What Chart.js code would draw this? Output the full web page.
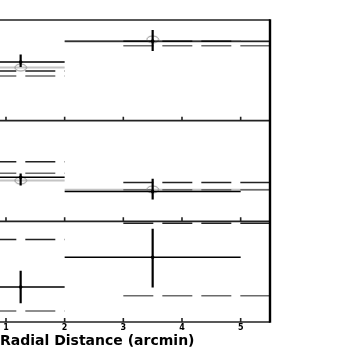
<!DOCTYPE html>
<html>
<head>
<meta charset="utf-8">
<script src="https://cdn.jsdelivr.net/npm/chart.js@4.4.0/dist/chart.umd.min.js"></script>
<style>
  html, body { margin: 0; padding: 0; background: #fff; overflow: hidden; }
  #wrap { position: relative; width: 364px; height: 350px; overflow: hidden; }
  #radialChart { position: absolute; left: -6px; top: 0; }
</style>
</head>
<body>
<div id="wrap"><canvas id="radialChart" width="370" height="350"></canvas></div>
<script>
// x axis (arcmin)
const xTicks = [1, 2, 3, 4, 5];
const binLo = [0.5, 2];
const binHi = [2, 5];
const binMid = [1.25, 3.5];
// model step edges
const modelLo = [0, 2];
const modelHi = [2, 5.5];
const dashLo = [0, 3];
const dashHi = [2, 5.5];

// panel 1 (top)
const p1Obs = [0.583, 0.79];
const p1ObsLo = [0.533, 0.693];
const p1ObsHi = [0.657, 0.90];
const p1Model = [0.527, 0.785];
const p1Circle = [0.527, 0.807];
const p1DashA = [0.493, 0.79];
const p1DashB = [0.443, 0.743];

// panel 2 (middle)
const p2Obs = [0.438, 0.297];
const p2ObsLo = [0.356, 0.216];
const p2ObsHi = [0.474, 0.422];
const p2Model = [0.405, 0.314];
const p2Circle = [0.405, 0.317];
const p2DashA = [0.591, 0.385];
const p2DashB = [0.477, 0.314];

// panel 3 (bottom)
const p3Obs = [0.347, 0.643];
const p3ObsLo = [0.187, 0.343];
const p3ObsHi = [0.51, 0.927];
const p3DashA = [0.82, 0.98];
const p3DashB = [0.11, 0.26];

// helpers: turn arrays into broken line paths
function hBars(lo, hi, vals){
  const out = [];
  vals.forEach((v, i) => { out.push({x: lo[i], y: v}, {x: hi[i], y: v}, {x: hi[i], y: null}); });
  return out;
}
function vBars(lo, hi){
  const out = [];
  lo.forEach((v, i) => { out.push({x: binMid[i], y: v}, {x: binMid[i], y: hi[i]}, {x: binMid[i], y: null}); });
  return out;
}
function pts(vals){ return vals.map((v, i) => ({x: binMid[i], y: v})); }

// open ellipse marker
const ring = document.createElement('canvas');
ring.width = 14; ring.height = 9;
(function(){
  const c = ring.getContext('2d');
  c.strokeStyle = '#8a8a8a';
  c.lineWidth = 1;
  c.beginPath();
  c.ellipse(7, 4.5, 5.8, 3.5, 0, 0, Math.PI * 2);
  c.stroke();
})();

const line = (data, yAxisID, color, width, dash) => ({
  type: 'line', data, yAxisID, borderColor: color, borderWidth: width,
  borderDash: dash || [], pointRadius: 0, fill: false, spanGaps: false, tension: 0
});
const dots = (data, yAxisID) => ({
  type: 'scatter', data, yAxisID, pointRadius: 1.8, pointBackgroundColor: '#000',
  pointBorderColor: '#000', pointBorderWidth: 0
});
const rings = (data, yAxisID) => ({
  type: 'scatter', data, yAxisID, pointStyle: ring, pointRadius: 5
});

const DASH = [30, 9];
const datasets = [];
[
  {id: 'y1', obs: p1Obs, lo: p1ObsLo, hi: p1ObsHi, model: p1Model, circ: p1Circle, a: p1DashA, b: p1DashB},
  {id: 'y2', obs: p2Obs, lo: p2ObsLo, hi: p2ObsHi, model: p2Model, circ: p2Circle, a: p2DashA, b: p2DashB},
  {id: 'y3', obs: p3Obs, lo: p3ObsLo, hi: p3ObsHi, a: p3DashA, b: p3DashB}
].forEach(p => {
  datasets.push(dots(pts(p.obs), p.id));
  datasets.push(line(vBars(p.lo, p.hi), p.id, '#000', 2.2));
  datasets.push(line(hBars(binLo, binHi, p.obs), p.id, '#000', 1.4));
  if (p.circ) datasets.push(rings(pts(p.circ), p.id));
  datasets.push(line(hBars(dashLo, dashHi, p.a), p.id, '#222', 1.5, DASH));
  datasets.push(line(hBars(dashLo, dashHi, p.b), p.id, '#6a6a6a', 1.5, DASH));
  if (p.model) datasets.push(line(hBars(modelLo, modelHi, p.model), p.id, '#c4c4c4', 2));
});

// panel frame and inward ticks
const framePlugin = {
  id: 'frame',
  afterDatasetsDraw(chart){
    const {ctx, chartArea, scales} = chart;
    const x = scales.x;
    ctx.save();
    ctx.strokeStyle = '#222';
    ctx.lineWidth = 1.6;
    ctx.beginPath();
    ctx.moveTo(chartArea.left, chartArea.top);
    ctx.lineTo(chartArea.right, chartArea.top);
    ['y1', 'y2', 'y3'].forEach(id => {
      const s = scales[id];
      ctx.moveTo(chartArea.left, s.bottom);
      ctx.lineTo(chartArea.right, s.bottom);
      xTicks.forEach(v => {
        const px = x.getPixelForValue(v);
        ctx.moveTo(px, s.bottom);
        ctx.lineTo(px, s.bottom - 4);
      });
    });
    ctx.stroke();
    ctx.strokeStyle = '#000';
    ctx.lineWidth = 2.4;
    ctx.beginPath();
    ctx.moveTo(chartArea.right, chartArea.top - 0.8);
    ctx.lineTo(chartArea.right, chartArea.bottom + 0.8);
    ctx.stroke();
    ctx.restore();
  }
};

const yPanel = {
  type: 'linear', display: false, stack: 'panels', stackWeight: 1, min: 0, max: 1
};

new Chart(document.getElementById('radialChart'), {
  type: 'line',
  data: { datasets },
  options: {
    responsive: false,
    animation: false,
    devicePixelRatio: 1,
    layout: { padding: { top: 20, right: 94, bottom: 2, left: 0 } },
    plugins: { legend: { display: false }, tooltip: { enabled: false } },
    scales: {
      x: {
        type: 'linear', position: 'bottom', min: 0.898, max: 5.5,
        afterBuildTicks: s => { s.ticks = xTicks.map(v => ({value: v})); },
        afterFit: s => { s.paddingLeft = 0; s.paddingRight = 0; },
        grid: { display: false, drawTicks: false, tickLength: 0 },
        border: { display: false },
        ticks: {
          padding: 2, color: '#000', maxRotation: 0,
          font: { family: 'DejaVu Sans', weight: 'bold', size: 8, lineHeight: 1 }
        },
        title: {
          display: true, text: 'Radial Distance (arcmin)', align: 'start', color: '#000',
          font: { family: 'DejaVu Sans', weight: 'bold', size: 14, lineHeight: 1 },
          padding: 0
        }
      },
      y3: { ...yPanel },
      y2: { ...yPanel },
      y1: { ...yPanel }
    }
  },
  plugins: [framePlugin]
});
</script>
</body>
</html>
